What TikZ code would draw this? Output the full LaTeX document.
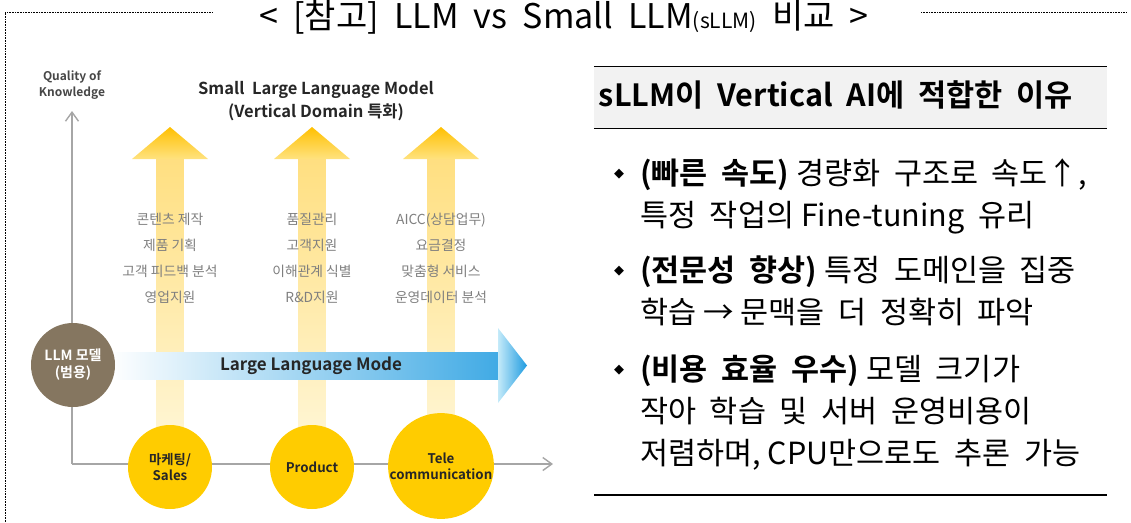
\documentclass[tikz,border=0pt]{standalone}
\usepackage{fontspec}
\setmainfont{Noto Sans CJK KR}[BoldFont={Noto Sans CJK KR Bold}]
\newfontfamily\symfont{DejaVu Sans}
\usetikzlibrary{positioning,calc,arrows.meta}
\definecolor{axisgray}{HTML}{A6A6A6}
\definecolor{listgray}{HTML}{7F7F7F}
\definecolor{labeldark}{HTML}{262626}
\definecolor{llmbrown}{HTML}{857660}
\definecolor{domainyellow}{HTML}{FFCC00}
\definecolor{arrowtop}{HTML}{FFC000}
\definecolor{arrowmid}{HTML}{FFE27F}
\definecolor{shafttop}{HTML}{FFDF80}
\definecolor{arrowfade}{HTML}{FFF5D2}
\definecolor{flowblue}{HTML}{1E9BE0}
\definecolor{flowlight}{HTML}{C4EAF9}
\definecolor{headgray}{HTML}{F2F2F2}

\tikzset{
  frameline/.style={densely dotted, line width=0.6pt, black},
  axisline/.style={line width=1.4pt, axisgray, -{Straight Barb[length=9pt,width=13pt]}},
  domaincircle/.style={circle, fill=domainyellow, minimum size=84pt, inner sep=0pt,
    align=center, text=labeldark, font=\bfseries\fontsize{13.3}{16}\selectfont},
  llmcircle/.style={circle, fill=llmbrown, minimum size=84pt, inner sep=0pt,
    align=center, text=white, font=\bfseries\fontsize{14}{17}\selectfont},
  tasklist/.style={align=center, text=listgray, font=\fontsize{13.8}{26}\selectfont},
  headbox/.style={fill=headgray, minimum width=513pt, minimum height=61pt, inner sep=0pt},
  reason/.style={anchor=north west, inner sep=0pt, align=left, font=\fontsize{30.5}{42}\selectfont}
}
\newcommand{\bul}{\makebox[0pt][r]{\raisebox{7.5pt}{\symfont\fontsize{13}{13}\selectfont ◆}\hspace{16pt}}}

\begin{document}
\begin{tikzpicture}[x=1pt,y=-1pt]
        \useasboundingbox (0,0) rectangle (1131,522);

        % Title and frame
        \node[anchor=base] (title) at (564,28) {\fontsize{34}{34}\selectfont\spaceskip=0.45em\relax < [참고] LLM vs Small LLM{\fontsize{21}{21}\selectfont (sLLM)} 비교 >};
        \coordinate (ftl) at (5,12);
        \coordinate (fbl) at (5,522);
        \coordinate (fgl) at (213,12);
        \coordinate (fgr) at (921,12);
        \coordinate (ftr) at (1127,12);
        \draw[frameline] (fbl) -- (ftl) -- (fgl);
        \draw[frameline] (fgr) -- (ftr);

        % Axes
        \coordinate (origin) at (72,464);
        \coordinate (ytop) at (72,111);
        \coordinate (xend) at (553,464);
        \draw[axisline] (origin) -- (ytop);
        \draw[axisline] (origin) -- (xend);
        \node[align=center, text=labeldark!85, font=\bfseries\fontsize{12}{16}\selectfont] (quality) at (72,85) {Quality of\\Knowledge};
        \node[align=center, text=labeldark, font=\bfseries\fontsize{16.5}{23}\selectfont] (slm) at (316,101) {Small\ \ Large Language Model\\(Vertical Domain 특화)};

        % Vertical domain arrows
        \foreach \cx in {170,312,441} {
            \shade[top color=shafttop, bottom color=arrowfade] (\cx-13.5,158) rectangle (\cx+13.5,430);
            \shade[top color=arrowtop, bottom color=arrowmid] (\cx,127) -- (\cx+38,159) -- (\cx-38,159) -- cycle;
        }

        % Task lists
        \node[tasklist] (mktlist) at (170,258.5) {콘텐츠\ 제작\\제품\ 기획\\고객\ 피드백\ 분석\\영업지원};
        \node[tasklist] (prdlist) at (312,258.5) {품질관리\\고객지원\\이해관계\ 식별\\R\&D지원};
        \node[tasklist] (tellist) at (441,258.5) {AICC(상담업무)\\요금결정\\맞춤형\ 서비스\\운영데이터\ 분석};

        % Large language model arrow
        \shade[left color=white, middle color=flowlight, right color=flowblue!85] (110,352) rectangle (500,379);
        \shade[left color=flowlight, right color=flowblue] (498,328) -- (527,365.5) -- (498,403) -- cycle;
        \node[text=labeldark, font=\bfseries\fontsize{17}{20}\selectfont] (llmflow) at (311,366) {Large Language Mode};

        % Circles
        \node[llmcircle] (llm) at (73,365) {LLM\ 모델\\(범용)};
        \node[domaincircle] (mkt) at (170,467) {마케팅/\\Sales};
        \node[domaincircle] (prd) at (312,467) {Product};
        \node[domaincircle] (tel) at (441,466) {Tele\\communication};

        % Reasons
        \node[headbox] (why) at (850.5,97.5) {};
        \node[font=\bfseries\fontsize{30.6}{34}\selectfont] (whytext) at (836,95) {sLLM이\ \ Vertical\ \ AI에\ \ 적합한\ \ 이유};
        \draw[line width=1.3pt] (why.north west) -- (why.north east);
        \draw[line width=1.3pt] (why.south west) -- (why.south east);
        \node[reason] (fast) at (640,159) {\bul\textbf{(빠른\ \ 속도)} 경량화\ \ 구조로\ \ 속도↑,\\특정\ \ 작업의 Fine-tuning\ \ 유리};
        \node[reason] (expert) at (640,256) {\bul\textbf{(전문성\ \ 향상)} 특정\ \ 도메인을\ \ 집중\\학습 → 문맥을\ \ 더\ \ 정확히\ \ 파악};
        \node[reason] (cost) at (640,355) {\bul\textbf{(비용\ \ 효율\ \ 우수)} 모델\ \ 크기가\\작아\ \ 학습\ \ 및\ \ 서버\ \ 운영비용이\\저렴하며, CPU만으로도\ \ 추론\ \ 가능};
        \coordinate (bl) at (594,495);
        \coordinate (br) at (1107,495);
        \draw[line width=1.3pt] (bl) -- (br);
    \end{tikzpicture}
\end{document}
